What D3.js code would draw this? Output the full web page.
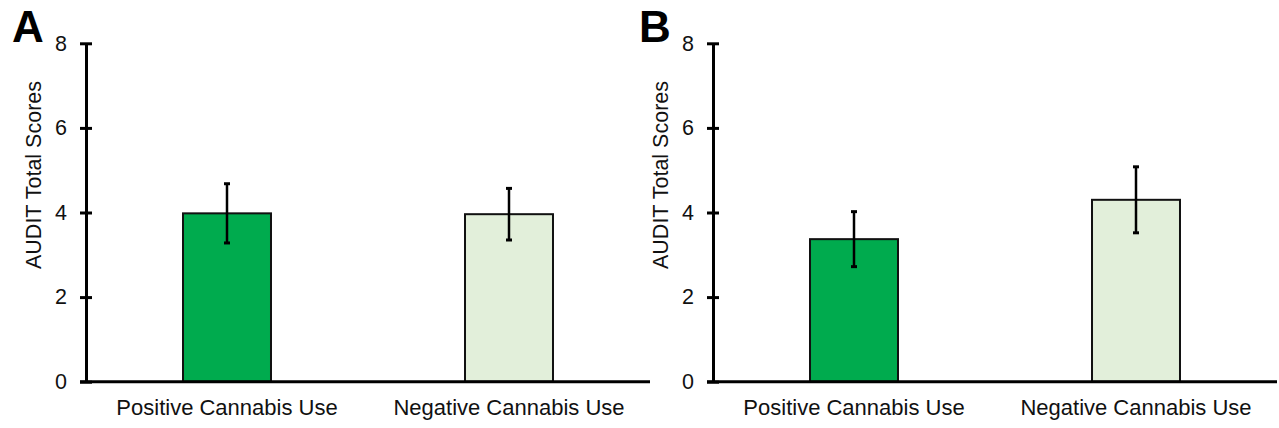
<!DOCTYPE html>
<html>
<head>
<meta charset="utf-8">
<script src="https://cdn.jsdelivr.net/npm/d3@7"></script>
<style>
  html, body { margin: 0; padding: 0; background: #fff; }
  svg { display: block; font-family: "Liberation Sans", Arial, sans-serif; }
</style>
</head>
<body>
<svg id="chart" width="1279" height="428"></svg>
<script>
// Groups on the x axis
const categories = ["Positive Cannabis Use", "Negative Cannabis Use"];
// Panel A: mean AUDIT total scores and error half-widths
const meansA = [3.98, 3.96];
const errorsA = [0.70, 0.61];
// Panel B: mean AUDIT total scores and error half-widths
const meansB = [3.37, 4.30];
const errorsB = [0.65, 0.78];
// Y axis ticks
const yTicks = [0, 2, 4, 6, 8];
const panelLetters = ["A", "B"];
const yTitle = "AUDIT Total Scores";
const barColors = ["#00ab4e", "#e2efda"];

const svg = d3.select("#chart");
const y = d3.scaleLinear().domain([0, 8]).range([381.7, 43.3]);

function drawPanel(x0, letter, means, errors) {
  const x1 = x0 + 564;
  const x = d3.scaleBand().domain(categories).range([x0, x1])
    .paddingInner(0.688).paddingOuter(0.344);
  const g = svg.append("g");

  // bars
  g.selectAll("rect.bar").data(categories).join("rect")
    .attr("class", "bar")
    .attr("x", d => x(d))
    .attr("width", x.bandwidth())
    .attr("y", (d, i) => y(means[i]))
    .attr("height", (d, i) => y(0) - y(means[i]))
    .attr("fill", (d, i) => barColors[i])
    .attr("stroke", "#111")
    .attr("stroke-width", 2);

  // error bars
  const eb = g.selectAll("g.err").data(categories).join("g").attr("class", "err");
  eb.append("line")
    .attr("x1", d => x(d) + x.bandwidth() / 2)
    .attr("x2", d => x(d) + x.bandwidth() / 2)
    .attr("y1", (d, i) => y(means[i] + errors[i]))
    .attr("y2", (d, i) => y(means[i] - errors[i]))
    .attr("stroke", "#000").attr("stroke-width", 2.5);
  [1, -1].forEach(s => {
    eb.append("line")
      .attr("x1", d => x(d) + x.bandwidth() / 2 - 3)
      .attr("x2", d => x(d) + x.bandwidth() / 2 + 3)
      .attr("y1", (d, i) => y(means[i] + s * errors[i]))
      .attr("y2", (d, i) => y(means[i] + s * errors[i]))
      .attr("stroke", "#000").attr("stroke-width", 3);
  });

  // x axis baseline
  g.append("line")
    .attr("x1", x0 - 6).attr("x2", x1)
    .attr("y1", y(0)).attr("y2", y(0))
    .attr("stroke", "#000").attr("stroke-width", 3);

  // y axis
  const ya = g.append("g")
    .attr("transform", `translate(${x0},0)`)
    .call(d3.axisLeft(y).tickValues(yTicks).tickSizeInner(6).tickSizeOuter(0).tickPadding(13));
  ya.select(".domain").attr("stroke", "#000").attr("stroke-width", 3);
  ya.selectAll(".tick line").attr("x1", -6).attr("x2", 6)
    .attr("stroke", "#000").attr("stroke-width", 3);
  ya.selectAll(".tick text").attr("font-size", 21.5).attr("fill", "#111")
    .attr("font-family", "Liberation Sans, Arial, sans-serif");

  // category labels
  g.selectAll("text.cat").data(categories).join("text")
    .attr("class", "cat")
    .attr("x", d => x(d) + x.bandwidth() / 2)
    .attr("y", 415)
    .attr("text-anchor", "middle")
    .attr("font-size", 22).attr("fill", "#111")
    .text(d => d);

  // y title
  g.append("text")
    .attr("transform", `translate(${x0 - 45},175) rotate(-90)`)
    .attr("text-anchor", "middle")
    .attr("font-size", 21.5).attr("fill", "#111")
    .text(yTitle);

  // panel letter
  g.append("text")
    .attr("x", x0 - 74).attr("y", 42)
    .attr("font-size", 44).attr("font-weight", "bold").attr("fill", "#000")
    .text(letter);
}

drawPanel(86, panelLetters[0], meansA, errorsA);
drawPanel(713, panelLetters[1], meansB, errorsB);
</script>
</body>
</html>
